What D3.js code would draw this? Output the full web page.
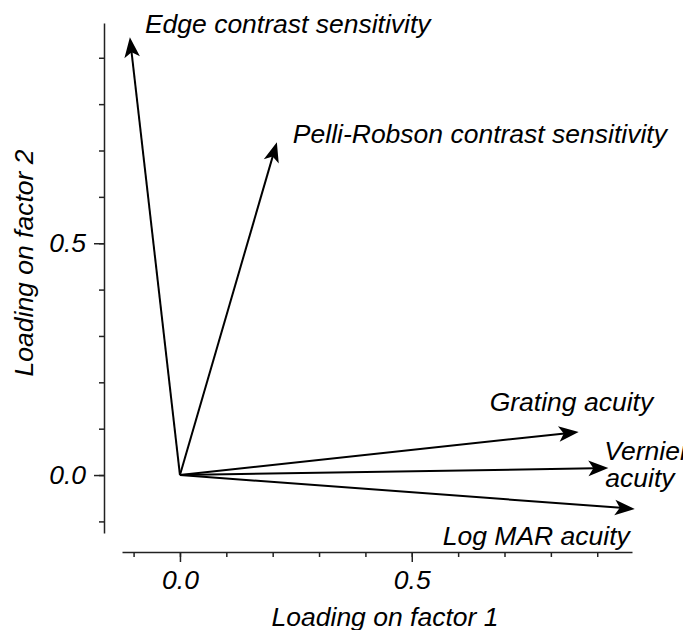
<!DOCTYPE html>
<html>
<head>
<meta charset="utf-8">
<script src="https://cdn.jsdelivr.net/npm/d3@7"></script>
<style>
  body { margin: 0; background: #fff; }
  svg text { font-family: "Liberation Sans", Arial, Helvetica, sans-serif; font-style: italic; font-size: 26.5px; fill: #000; }
</style>
</head>
<body>
<svg id="chart" width="683" height="630"></svg>
<script>
// loadings
const variables = ["Edge contrast sensitivity", "Pelli-Robson contrast sensitivity",
                   "Grating acuity", "Vernier acuity", "Log MAR acuity"];
const factor1 = [-0.108, 0.209, 0.860, 0.924, 0.981];
const factor2 = [0.944, 0.718, 0.093, 0.015, -0.073];

const minorTicks = [-0.1, 0.0, 0.1, 0.2, 0.3, 0.4, 0.5, 0.6, 0.7, 0.8, 0.9];
const majorTicks = [0.0, 0.5];
const majorLabels = ["0.0", "0.5"];

// label placement (pixel offset from the arrow tip), split lines
const labelLines = [["Edge contrast sensitivity"], ["Pelli-Robson contrast sensitivity"],
                    ["Grating acuity"], ["Vernier", "acuity"], ["Log MAR acuity"]];
const labelDx = [15, 16, -89, -4, -192];
const labelDy = [-4, 1, -21, -8, 36];

const svg = d3.select("#chart");
const domain = [-0.125, 0.975];

const x = d3.scaleLinear().domain(domain).range([122, 632]);
const y = d3.scaleLinear().domain(domain).range([533, 23]);

const AXIS_X = 552;   // y position of the bottom axis
const AXIS_Y = 104;   // x position of the left axis

function styleAxis(g) {
    g.selectAll("path, line").attr("stroke", "#222").attr("stroke-width", 1.5);
    g.selectAll("text").attr("font-size", null).attr("font-family", null).attr("fill", "#000");
}

// bottom axis: minor ticks then major ticks with labels
svg.append("g")
    .attr("transform", `translate(0,${AXIS_X})`)
    .call(d3.axisBottom(x).tickValues(minorTicks).tickSize(5).tickSizeOuter(0).tickFormat(""))
    .call(styleAxis);

svg.append("g")
    .attr("transform", `translate(0,${AXIS_X})`)
    .call(d3.axisBottom(x).tickValues(majorTicks).tickSize(10).tickSizeOuter(0).tickPadding(8)
          .tickFormat((d, i) => majorLabels[i]))
    .call(styleAxis)
    .call(g => g.select(".domain").remove());

// left axis
svg.append("g")
    .attr("transform", `translate(${AXIS_Y},0)`)
    .call(d3.axisLeft(y).tickValues(minorTicks).tickSize(5).tickSizeOuter(0).tickFormat(""))
    .call(styleAxis);

svg.append("g")
    .attr("transform", `translate(${AXIS_Y},0)`)
    .call(d3.axisLeft(y).tickValues(majorTicks).tickSize(10).tickSizeOuter(0).tickPadding(8)
          .tickFormat((d, i) => majorLabels[i]))
    .call(styleAxis)
    .call(g => g.select(".domain").remove());

// axis titles
svg.append("text")
    .attr("x", 385).attr("y", 626)
    .attr("text-anchor", "middle")
    .text("Loading on factor 1");

svg.append("text")
    .attr("transform", "translate(33,263) rotate(-90)")
    .attr("text-anchor", "middle")
    .text("Loading on factor 2");

// arrows
const HEAD_LEN = 20, HEAD_HALF = 7.8, NOTCH = 5;
const data = variables.map((name, i) => ({name, f1: factor1[i], f2: factor2[i], i}));

const x0 = x(0), y0 = y(0);

const arrows = svg.append("g").attr("class", "arrows");

data.forEach(function(d) {
    const tx = x(d.f1), ty = y(d.f2);
    const ang = Math.atan2(ty - y0, tx - x0);
    const len = Math.hypot(tx - x0, ty - y0);
    const endLen = len - HEAD_LEN + NOTCH + 1;

    arrows.append("line")
        .attr("x1", x0).attr("y1", y0)
        .attr("x2", x0 + Math.cos(ang) * endLen)
        .attr("y2", y0 + Math.sin(ang) * endLen)
        .attr("stroke", "#000")
        .attr("stroke-width", 2);

    arrows.append("path")
        .attr("d", `M0,0L${-HEAD_LEN},${-HEAD_HALF}L${-HEAD_LEN + NOTCH},0L${-HEAD_LEN},${HEAD_HALF}Z`)
        .attr("transform", `translate(${tx},${ty}) rotate(${ang * 180 / Math.PI})`)
        .attr("fill", "#000");

    const t = svg.append("text")
        .attr("x", tx + labelDx[d.i])
        .attr("y", ty + labelDy[d.i]);
    labelLines[d.i].forEach(function(line, j) {
        t.append("tspan")
            .attr("x", tx + labelDx[d.i] + (j ? 1 : 0))
            .attr("dy", j ? 27 : 0)
            .text(line);
    });
});
</script>
</body>
</html>
